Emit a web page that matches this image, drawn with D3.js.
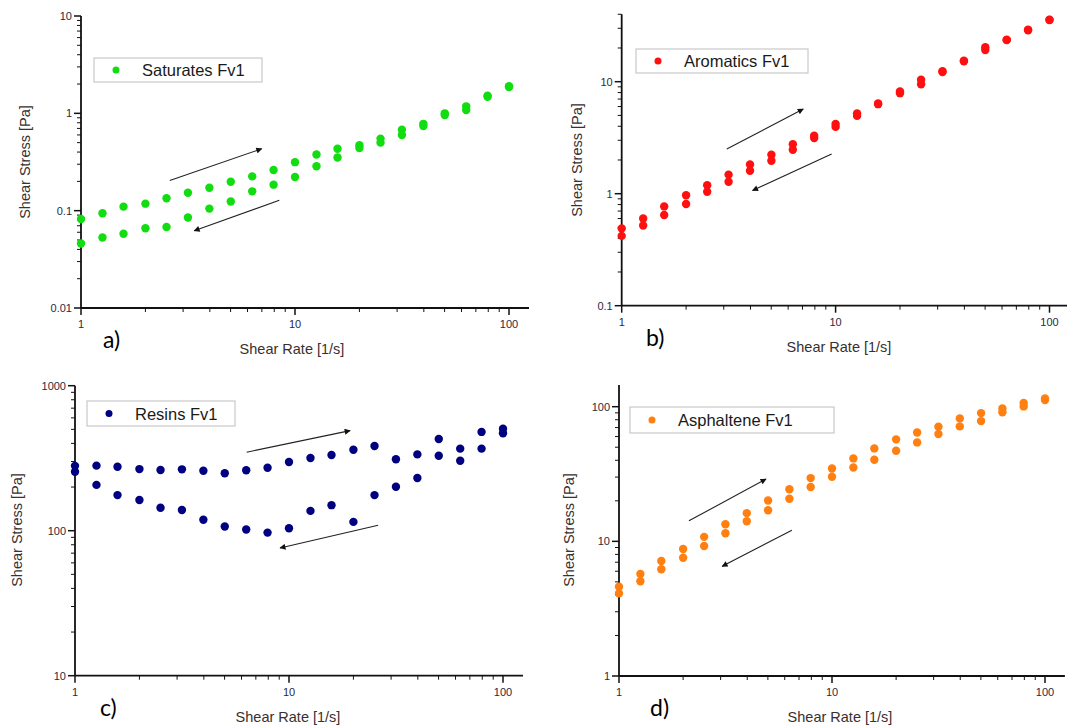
<!DOCTYPE html>
<html>
<head>
<meta charset="utf-8">
<script src="https://cdn.jsdelivr.net/npm/d3@7"></script>
<style>
  body { margin: 0; background: #fff; }
  text { font-family: "Liberation Sans", Arial, sans-serif; }
</style>
</head>
<body>
<div id="chart"></div>
<script>
// shear rates (1/s), 10 points per decade
const rates = [1, 1.26, 1.58, 2, 2.51, 3.16, 3.98, 5.01, 6.31, 7.94, 10, 12.6, 15.8, 20, 25.1, 31.6, 39.8, 50.1, 63.1, 79.4, 100];

// shear stress (Pa), upper and lower branch of each loop
const satUp   = [0.082, 0.094, 0.110, 0.118, 0.134, 0.153, 0.172, 0.198, 0.225, 0.262, 0.315, 0.377, 0.432, 0.47, 0.55, 0.68, 0.78, 1.0, 1.18, 1.52, 1.90];
const satDown = [0.046, 0.053, 0.058, 0.066, 0.068, 0.085, 0.105, 0.124, 0.158, 0.185, 0.222, 0.286, 0.352, 0.44, 0.50, 0.60, 0.74, 0.96, 1.08, 1.48, 1.86];

const aroUp   = [0.49, 0.60, 0.77, 0.97, 1.19, 1.48, 1.82, 2.23, 2.76, 3.30, 4.2, 5.2, 6.4, 8.2, 10.4, 12.4, 15.4, 20.3, 23.7, 29.1, 35.8];
const aroDown = [0.42, 0.52, 0.645, 0.81, 1.04, 1.28, 1.60, 1.97, 2.47, 3.14, 3.95, 4.95, 6.3, 7.9, 9.5, 12.2, 15.2, 19.2, 23.5, 28.8, 35.5];

const resUp   = [280, 281, 276, 266, 262, 265, 259, 249, 261, 272, 298, 317, 333, 362, 384, 311, 336, 429, 368, 480, 505];
const resDown = [255, 207, 176, 163, 144, 139, 119, 107, 102, 97, 104, 137, 150, 115, 176, 201, 231, 329, 304, 368, 470];

const aspUp   = [4.6, 5.72, 7.14, 8.77, 10.8, 13.4, 16.2, 20.1, 24.4, 29.5, 34.8, 41.3, 49, 57.2, 64.4, 71, 81.9, 89.6, 97, 106.4, 115];
const aspDown = [4.11, 5.05, 6.2, 7.56, 9.23, 11.5, 14.1, 17.0, 20.7, 25.3, 30.2, 35.4, 40.4, 47.1, 54.3, 62.6, 71.4, 78.2, 90.8, 100.5, 112];

// tick labels
const xTicks = [1, 10, 100];
const yTicksA = [0.01, 0.1, 1, 10];
const yTicksB = [0.1, 1, 10];
const yTicksC = [10, 100, 1000];
const yTicksD = [1, 10, 100];

// direction arrows in data units: [x1, y1, x2, y2] (arrowhead at 2nd point)
const arrowsA = [[2.6, 0.204, 6.99, 0.432], [8.45, 0.128, 3.38, 0.0622]];
const arrowsB = [[3.1, 2.51, 7.06, 5.7], [9.58, 2.26, 4.09, 1.07]];
const arrowsC = [[6.34, 348, 19.3, 490], [26.1, 109, 9.08, 76]];
const arrowsD = [[2.13, 14.2, 4.9, 29], [6.48, 12.1, 3.05, 6.52]];

const W = 1067, H = 727;
const svg = d3.select("#chart").append("svg")
  .attr("width", W).attr("height", H)
  .style("background", "#fff");

const defs = svg.append("defs");
defs.append("marker")
  .attr("id", "head")
  .attr("viewBox", "0 0 10 10")
  .attr("refX", 9).attr("refY", 5)
  .attr("markerWidth", 8).attr("markerHeight", 6)
  .attr("markerUnits", "userSpaceOnUse")
  .attr("orient", "auto")
  .append("path").attr("d", "M0,0 L10,5 L0,10 z").attr("fill", "#111");

const panels = [
  {name: "Saturates Fv1", color: "#11dd11", up: satUp, down: satDown, yTicks: yTicksA, arrows: arrowsA,
   x0: 81, x1: 509, yDom: [0.01, 10], yRange: [308, 16], yTop: 10,
   legend: [94, 58, 168, 24], yLab: [30, 162], xLab: [292, 354], tag: "a)", tagPos: [103, 348]},
  {name: "Aromatics Fv1", color: "#ff1010", up: aroUp, down: aroDown, yTicks: yTicksB, arrows: arrowsB,
   x0: 621.7, x1: 1049.5, yDom: [0.1, 10], yRange: [305.7, 81.7], yTop: 40,
   legend: [636, 49, 172, 24], yLab: [582, 160], xLab: [839, 352], tag: "b)", tagPos: [646, 346]},
  {name: "Resins Fv1", color: "#000080", up: resUp, down: resDown, yTicks: yTicksC, arrows: arrowsC,
   x0: 75, x1: 503, yDom: [10, 1000], yRange: [675.7, 385.7], yTop: 1000,
   legend: [87, 401, 148, 25], yLab: [22, 530], xLab: [288, 722], tag: "c)", tagPos: [100, 716]},
  {name: "Asphaltene Fv1", color: "#ff8010", up: aspUp, down: aspDown, yTicks: yTicksD, arrows: arrowsD,
   x0: 619, x1: 1045, yDom: [1, 100], yRange: [676, 406.7], yTop: 145,
   legend: [630, 407, 204, 26], yLab: [574, 530], xLab: [840, 722], tag: "d)", tagPos: [650, 716]}
];

panels.forEach(function(p) {
  const g = svg.append("g");
  const xs = d3.scaleLog().domain([1, 100]).range([p.x0, p.x1]);
  const ys = d3.scaleLog().domain(p.yDom).range(p.yRange);
  const yBot = ys(p.yDom[0]);
  const xEnd = Math.min(xs(124), W);

  // minor + major ticks, y axis (outward, left)
  const yMinor = [];
  for (let e = Math.log10(p.yDom[0]); e < Math.log10(p.yTop); e++) {
    for (let m = 2; m <= 9; m++) {
      const v = m * Math.pow(10, e);
      if (v <= p.yTop) yMinor.push(v);
    }
  }
  g.selectAll(".ymin").data(yMinor).enter().append("line")
    .attr("x1", p.x0 - 4).attr("x2", p.x0)
    .attr("y1", d => ys(d)).attr("y2", d => ys(d))
    .attr("stroke", "#111").attr("stroke-width", 1);
  g.selectAll(".ymaj").data(p.yTicks).enter().append("line")
    .attr("x1", p.x0 - 7).attr("x2", p.x0)
    .attr("y1", d => ys(d)).attr("y2", d => ys(d))
    .attr("stroke", "#111").attr("stroke-width", 1.5);
  g.selectAll(".ylab").data(p.yTicks).enter().append("text")
    .attr("x", p.x0 - 9).attr("y", d => ys(d) + 4)
    .attr("text-anchor", "end")
    .style("font-size", "11px").attr("fill", "#2a2a40")
    .text(d => d);

  // x axis ticks (outward, down)
  const xMinor = [];
  for (let e = 0; e < 3; e++) {
    for (let m = 2; m <= 9; m++) {
      const v = m * Math.pow(10, e);
      if (xs(v) <= xEnd) xMinor.push(v);
    }
  }
  g.selectAll(".xmin").data(xMinor).enter().append("line")
    .attr("x1", d => xs(d)).attr("x2", d => xs(d))
    .attr("y1", yBot).attr("y2", yBot + 4)
    .attr("stroke", "#111").attr("stroke-width", 1);
  g.selectAll(".xmaj").data(xTicks).enter().append("line")
    .attr("x1", d => xs(d)).attr("x2", d => xs(d))
    .attr("y1", yBot).attr("y2", yBot + 7)
    .attr("stroke", "#111").attr("stroke-width", 1.5);
  g.selectAll(".xlab").data(xTicks).enter().append("text")
    .attr("x", d => xs(d)).attr("y", yBot + 20)
    .attr("text-anchor", "middle")
    .style("font-size", "11px").attr("fill", "#2a2a40")
    .text(d => d);

  // axis lines
  g.append("line").attr("x1", p.x0).attr("x2", p.x0)
    .attr("y1", ys(p.yTop)).attr("y2", yBot)
    .attr("stroke", "#111").attr("stroke-width", 1.8);
  g.append("line").attr("x1", p.x0).attr("x2", xEnd)
    .attr("y1", yBot).attr("y2", yBot)
    .attr("stroke", "#111").attr("stroke-width", 1.8);

  // axis titles
  g.append("text")
    .attr("transform", "translate(" + p.yLab[0] + "," + p.yLab[1] + ") rotate(-90)")
    .attr("text-anchor", "middle")
    .style("font-size", "14.5px").attr("fill", "#3a3030")
    .text("Shear Stress [Pa]");
  g.append("text")
    .attr("x", p.xLab[0]).attr("y", p.xLab[1])
    .attr("text-anchor", "middle")
    .style("font-size", "14.5px").attr("fill", "#3a3030")
    .text("Shear Rate [1/s]");

  // panel tag
  g.append("text")
    .attr("x", p.tagPos[0]).attr("y", p.tagPos[1])
    .style("font-family", "Lato, 'Open Sans', sans-serif")
    .style("font-size", "23px").attr("fill", "#000")
    .text(p.tag);

  // points
  const pts = [];
  rates.forEach(function(r, i) {
    pts.push({x: r, y: p.up[i]});
    pts.push({x: r, y: p.down[i]});
  });
  g.selectAll(".pt").data(pts).enter().append("circle")
    .attr("cx", d => xs(d.x)).attr("cy", d => ys(d.y))
    .attr("r", 4.2).attr("fill", p.color);

  // arrows
  g.selectAll(".arr").data(p.arrows).enter().append("line")
    .attr("x1", d => xs(d[0])).attr("y1", d => ys(d[1]))
    .attr("x2", d => xs(d[2])).attr("y2", d => ys(d[3]))
    .attr("stroke", "#222").attr("stroke-width", 1.1)
    .attr("marker-end", "url(#head)");

  // legend
  const L = p.legend;
  g.append("rect").attr("x", L[0]).attr("y", L[1]).attr("width", L[2]).attr("height", L[3])
    .attr("fill", "#fff").attr("stroke", "#c8c8c8").attr("stroke-width", 1.2);
  g.append("circle").attr("cx", L[0] + 22).attr("cy", L[1] + L[3] / 2)
    .attr("r", 3.5).attr("fill", p.color);
  g.append("text").attr("x", L[0] + 48).attr("y", L[1] + L[3] / 2 + 6)
    .style("font-size", "16.5px").attr("fill", "#1a1a1a")
    .text(p.name);
});
</script>
</body>
</html>
